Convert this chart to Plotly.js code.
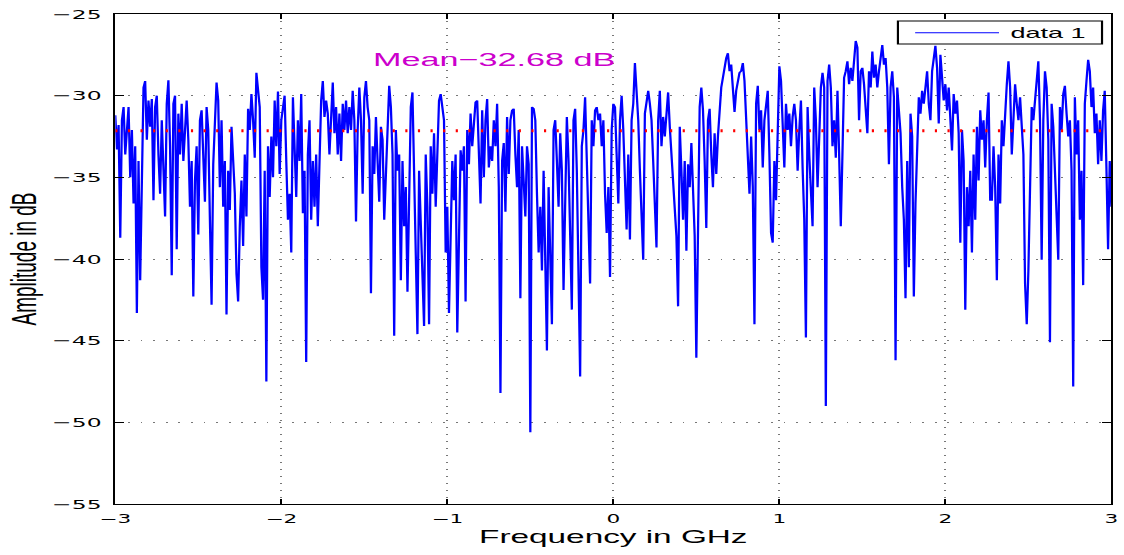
<!DOCTYPE html>
<html><head><meta charset="utf-8">
<script src="https://cdn.plot.ly/plotly-3.0.1.min.js"></script>
<style>
html,body{margin:0;padding:0;background:#fff;overflow:hidden;}
#wrap{width:1124px;height:555px;overflow:hidden;}
#chart{width:624px;height:555px;transform:scaleX(1.801282);transform-origin:0 0;}
</style></head><body><div id="wrap"><div id="chart"></div></div>
<script>
// Frequency grid (GHz): start and step of the sampled spectrum
const freqStart = -3;
const freqStep = 0.01;

// Amplitude in dB, segment by segment
const ampSeg1 = [-31.2,-33.3,-31.8,-38.7,-31.5,-30.7,-33.6,-31.5,-30.7,-35.0,
-32.1,-36.6,-33.1,-43.3,-34.0,-41.3,-31.5,-29.5,-29.1,-32.7,
-30.3,-31.9,-30.2,-36.4,-30.7,-30.0,-33.6,-36.0,-31.5,-34.8,
-37.4,-30.5,-29.05,-33.1,-41.0,-30.5,-30.0,-39.4,-31.1,-33.6,
-30.5,-34.0,-31.3,-30.3,-32.7,-36.8,-34.0,-42.3,-35.2,-33.1,
-38.5,-31.5,-30.9,-34.2,-36.5,-30.7,-32.1,-37.6,-42.8,-34.2,
-31.5,-29.2,-30.3,-35.6,-31.5,-36.8,-34.0,-43.4,-34.6,-37.0,
-31.9,-33.6,-36.0,-40.9,-42.6];
const ampSeg2 = [-38.0,-35.2,-39.2,-33.6,-37.4,-30.8,-32.1,-29.9,-31.5,-33.8,
-28.6,-30.3,-30.7,-40.5,-42.5,-34.6,-47.5,-33.1,-36.2,-32.5,
-35.0,-30.3,-33.1,-29.75,-34.8,-31.5,-30.7,-30.0,-34.0,-37.6,
-36.0,-39.6,-30.1,-33.1,-36.2,-31.5,-34.0,-29.9,-37.2,-34.6,
-46.3,-33.6,-31.5,-37.6,-34.0,-36.8,-33.6,-38.0,-32.1,-30.3,
-29.1,-31.3,-30.3,-31.1,-33.6,-30.3,-29.2,-32.3,-30.7,-33.6,
-31.1,-34.0,-30.5,-32.1,-30.3,-32.3,-30.7,-32.1,-29.7,-31.5,
-37.7,-32.1,-29.5,-31.5,-36.0,-30.1];
const ampSeg3 = [-29.1,-30.7,-31.5,-42.1,-33.1,-34.8,-31.3,-34.0,-36.5,-31.9,
-32.7,-37.6,-34.6,-30.1,-29.4,-30.7,-33.6,-44.7,-32.1,-34.6,
-33.6,-41.3,-34.0,-38.0,-35.6,-42.0,-33.1,-30.7,-29.8,-34.6,
-38.6,-44.6,-34.6,-38.0,-42.9,-44.1,-33.6,-36.8,-44.0,-33.1,
-36.0,-32.3,-36.8,-32.1,-30.3,-29.9,-31.1,-31.5,-39.6,-36.8,
-43.3,-37.6,-34.0,-36.4,-33.6,-44.5,-35.2,-33.35,-34.6,-33.1,
-42.6,-32.1,-34.2,-31.1,-33.1,-31.5,-30.4,-30.3,-34.0,-36.6,
-30.9,-35.0,-31.5,-30.2,-34.4];
const ampSeg4 = [-33.1,-34.0,-31.5,-33.1,-30.5,-35.6,-48.2,-34.0,-32.9,-37.1,
-31.3,-34.8,-31.5,-30.9,-30.8,-33.6,-35.6,-32.1,-42.4,-33.1,
-35.4,-37.4,-33.1,-34.2,-50.6,-30.7,-30.8,-31.5,-36.0,-39.6,
-36.8,-40.7,-34.6,-41.1,-45.6,-35.6,-39.6,-44.0,-32.1,-31.5,
-34.0,-36.8,-32.3,-34.6,-41.9,-33.6,-31.3,-34.0,-37.6,-43.1,
-31.5,-30.8,-34.6,-39.8,-47.2,-33.1,-32.1,-30.1,-34.0,-36.8,
-41.5,-31.5,-33.1,-30.9,-30.7,-31.5,-31.1,-33.1,-31.5,-36.0,
-38.4,-35.6,-41.1,-32.1,-30.5];
const ampSeg5 = [-30.7,-33.1,-36.6,-31.5,-30.0,-32.1,-34.6,-38.2,-33.6,-38.8,
-31.5,-30.5,-28.0,-29.5,-31.5,-34.6,-36.8,-40.05,-31.1,-30.3,
-29.7,-30.5,-31.5,-34.0,-37.6,-39.3,-31.5,-29.7,-33.1,-31.3,
-32.5,-30.5,-29.8,-31.9,-33.6,-35.2,-36.8,-38.6,-42.9,-31.9,
-34.6,-37.6,-34.0,-39.5,-34.2,-35.6,-32.9,-36.6,-38.6,-46.05,
-35.2,-30.7,-29.5,-30.9,-34.0,-38.1,-31.5,-30.8,-33.6,-35.6,
-32.3,-34.8,-32.5,-30.5,-29.5,-28.9,-28.1,-27.7,-27.4,-28.5,
-28.1,-29.5,-31.0,-29.7,-28.9,-28.6];
const ampSeg6 = [-28.5,-28.0,-29.1,-31.5,-34.0,-36.0,-32.5,-35.6,-44.0,-30.5,
-29.4,-32.1,-30.9,-34.4,-31.5,-30.1,-29.7,-33.6,-38.4,-39.0,
-34.0,-36.4,-30.5,-28.2,-29.1,-31.5,-34.4,-30.5,-32.1,-31.1,
-33.1,-31.3,-30.5,-31.5,-34.6,-32.1,-30.3,-34.4,-37.6,-44.8,
-30.7,-33.6,-35.6,-38.0,-29.5,-31.5,-35.6,-30.7,-29.5,-28.6,
-29.5,-49.0,-29.1,-28.1,-29.5,-33.1,-31.5,-33.8,-29.7,-33.6,
-38.0,-33.6,-28.9,-28.5,-27.9,-29.3,-28.3,-29.1,-27.3,-26.65,
-27.05,-31.5,-28.5,-28.3,-29.3];
const ampSeg7 = [-31.5,-32.3,-28.5,-29.5,-27.3,-28.9,-28.1,-29.5,-28.5,-27.5,
-26.9,-28.1,-27.7,-29.5,-34.2,-29.5,-28.5,-30.1,-46.2,-29.5,
-30.7,-32.3,-35.6,-37.6,-42.4,-34.0,-40.5,-31.1,-32.5,-42.3,
-36.6,-31.5,-30.1,-31.1,-29.7,-30.5,-28.9,-28.5,-30.5,-31.5,
-28.5,-27.9,-26.95,-28.3,-31.7,-27.5,-29.3,-30.3,-29.3,-30.9,
-29.5,-31.5,-33.35,-29.9,-31.1,-30.3,-32.3,-39.0,-32.1,-34.0,
-43.1,-35.6,-38.0,-34.6,-39.6,-33.6,-37.6,-31.9,-35.2,-30.9,
-32.7,-31.5,-34.4,-31.5,-29.8,-36.4];
const ampSeg8 = [-36.4,-33.1,-35.6,-41.3,-33.6,-36.6,-31.5,-33.1,-30.1,-29.3,
-27.9,-29.5,-33.6,-31.1,-29.3,-30.5,-31.5,-30.1,-32.3,-33.6,
-41.5,-44.0,-40.7,-33.6,-30.7,-31.5,-29.9,-28.5,-27.9,-31.5,
-40.05,-31.5,-28.5,-29.5,-32.7,-45.1,-30.5,-31.9,-34.6,-37.6,
-40.05,-30.7,-32.1,-29.9,-29.4,-31.1,-32.5,-31.5,-34.6,-47.8,
-30.1,-33.6,-31.5,-37.6,-34.6,-41.6,-30.5,-29.1,-27.8,-28.5,
-30.7,-29.5,-32.3,-31.1,-34.2,-31.5,-34.0,-30.9,-29.7,-34.4,
-39.4,-34.0,-36.8];

// Mean level (dB) as drawn by the red dotted line, and its label
const meanLevel = -32.15;
const meanLabel = 'Mean\u221232.68 dB';
const seriesName = 'data 1';

// Axis ticks
const xTicks = [-3, -2, -1, 0, 1, 2, 3];
const xTickText = ['\u22123', '\u22122', '\u22121', '0', '1', '2', '3'];
const yTicks = [-55, -50, -45, -40, -35, -30, -25];
const yTickText = ['\u221255', '\u221250', '\u221245', '\u221240', '\u221235', '\u221230', '\u221225'];
const xRange = [-3, 3];
const yRange = [-55, -25];

const amps = [].concat(ampSeg1, ampSeg2, ampSeg3, ampSeg4, ampSeg5, ampSeg6, ampSeg7, ampSeg8);
const freqs = amps.map((_, i) => +(freqStart + i * freqStep).toFixed(4));

const blue = '#0000ff';
const traces = [
  {
    x: freqs, y: amps, type: 'scatter', mode: 'lines', name: seriesName,
    line: {color: blue, width: 1.25}, showlegend: false
  },
  {
    x: xRange, y: [meanLevel, meanLevel], type: 'scatter', mode: 'lines', name: 'mean',
    line: {color: '#ff0000', width: 3, dash: '1.2px,5.8px'}, showlegend: false, hoverinfo: 'skip'
  }
];

const axisCommon = {
  showline: true, linecolor: '#000', linewidth: 1, mirror: 'ticks',
  ticks: 'inside', ticklen: 5, tickwidth: 1, tickcolor: '#000',
  showgrid: true, gridcolor: '#777777', gridwidth: 1, griddash: '1px,6px',
  zeroline: false, ticklabelstandoff: 4
};
const titleFont = {family: 'Liberation Sans, Arial, sans-serif', color: '#000'};

// Legend box (MATLAB style), in paper coordinates
const legendBox = {x0: 0.7857, x1: 0.9906, y0: 0.9388, y1: 0.9857};
const legendLine = {x0: 0.803, x1: 0.8872, y: 0.9618};
const legendTextPos = {x: 0.8973, y: 0.9618};

const layout = {
  width: 624, height: 555, autosize: false,
  margin: {l: 64, r: 7, t: 14, b: 51, pad: 0},
  paper_bgcolor: '#ffffff', plot_bgcolor: '#ffffff',
  font: {family: 'Liberation Sans, Arial, sans-serif', color: '#000'},
  showlegend: false,
  xaxis: Object.assign({}, axisCommon, {
    range: xRange, tickmode: 'array', tickvals: xTicks, ticktext: xTickText,
    tickfont: {family: 'DejaVu Sans, sans-serif', size: 12, color: '#000'},
    title: {text: 'Frequency in GHz', font: Object.assign({size: 18.5}, titleFont), standoff: 4}
  }),
  yaxis: Object.assign({}, axisCommon, {
    range: yRange, tickmode: 'array', tickvals: yTicks, ticktext: yTickText,
    tickfont: {family: 'DejaVu Sans, sans-serif', size: 13, color: '#000'},
    title: {text: 'Amplitude in dB', font: Object.assign({size: 19}, titleFont), standoff: 3}
  }),
  shapes: [
    {type: 'rect', xref: 'paper', yref: 'paper', x0: legendBox.x0, x1: legendBox.x1, y0: legendBox.y0, y1: legendBox.y1,
     line: {color: '#000', width: 1.2}, fillcolor: '#ffffff', layer: 'above'},
    {type: 'line', xref: 'paper', yref: 'paper', x0: legendLine.x0, x1: legendLine.x1, y0: legendLine.y, y1: legendLine.y,
     line: {color: blue, width: 1}, layer: 'above'}
  ],
  annotations: [
    {x: -1.47, y: -27.76, xref: 'x', yref: 'y', text: meanLabel, showarrow: false,
     xanchor: 'left', yanchor: 'middle',
     font: {family: 'Liberation Sans, Arial, sans-serif', size: 19, color: '#cc00cc'}},
    {x: legendTextPos.x, y: legendTextPos.y, xref: 'paper', yref: 'paper', text: seriesName, showarrow: false,
     xanchor: 'left', yanchor: 'middle', borderpad: 0,
     font: {family: 'Liberation Sans, Arial, sans-serif', size: 15, color: '#000'}}
  ]
};

Plotly.newPlot('chart', traces, layout, {displayModeBar: false, staticPlot: true});
</script></body></html>
